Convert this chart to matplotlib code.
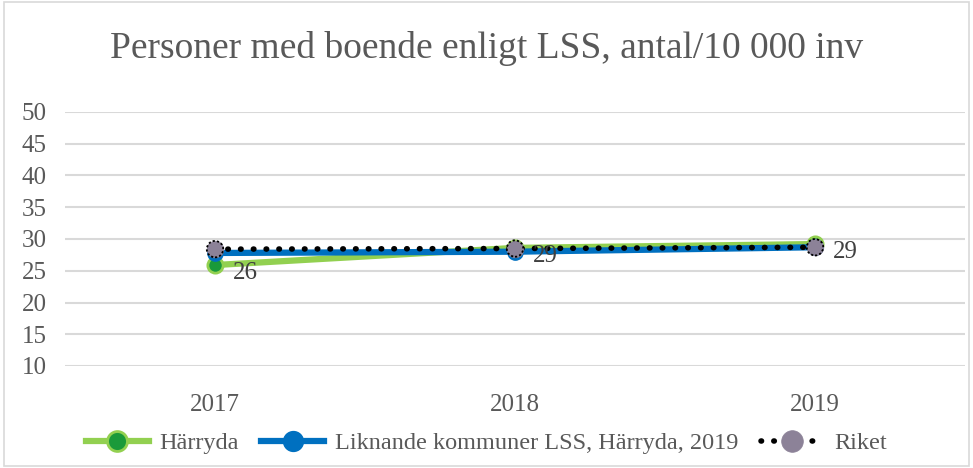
import numpy as np
from matplotlib import pyplot as plt

years = ['2017', '2018', '2019']
harryda = [25.9, 28.6, 29.2]
liknande = [27.8, 28.0, 28.7]
riket = [28.4, 28.5, 28.7]
labels_harryda = ['26', '29', '29']

plt.rcParams['font.family'] = ['Liberation Serif', 'DejaVu Serif']

fig = plt.figure(figsize=(9.73, 4.68), dpi=100)
ax = fig.add_axes([65/973, (468-366)/468, 900/973, 254/468])

x = np.arange(len(years))

ax.plot(x, harryda, color='#92D050', lw=4.5, marker='o', ms=11,
        mfc='#1A9A3A', mec='#92D050', mew=2, zorder=3, label='Härryda')
ax.plot(x, liknande, color='#0070C0', lw=4.5, marker='o', ms=11,
        mfc='#0070C0', mec='#0070C0', zorder=4,
        label='Liknande kommuner LSS, Härryda, 2019')
ax.plot(x, riket, color='black', lw=4, ls=(0, (0.1, 2.2)), dash_capstyle='round',
        marker='o', ms=12, mfc='#8C8298', mec='#8C8298', mew=0.5, zorder=5,
        label='Riket')
# dotted outline on Riket markers
ax.scatter(x, riket, s=140, facecolors='none', edgecolors='black',
           linewidths=1.3, linestyles=(0, (1.2, 1.2)), zorder=7)

for xi, yi, lab in zip(x, harryda, labels_harryda):
    ax.annotate(lab, (xi, yi), xytext=(13, -6), textcoords='offset points',
                fontsize=18, color='#404040', va='center', ha='left', zorder=8)

ax.set_xlim(-0.5, 2.5)
ax.set_ylim(10, 50)
ax.set_yticks(np.arange(10, 51, 5))
ax.set_xticks(x)
ax.set_xticklabels(years)
ax.grid(axis='y', color='#D9D9D9', lw=1.5)
ax.set_axisbelow(True)
for s in ax.spines.values():
    s.set_visible(False)
ax.tick_params(length=0, labelsize=18, colors='#595959', pad=13)
ax.tick_params(axis='x', pad=20)

fig.text(0.5, 1 - 48/468, 'Personer med boende enligt LSS, antal/10 000 inv',
         ha='center', va='center', fontsize=27, color='#595959')

leg = fig.legend(loc='center', bbox_to_anchor=(0.5, 1 - 443/468), ncol=3,
                 frameon=False, fontsize=17.5, handlelength=2.6, columnspacing=0.9,
                 handletextpad=0.45, labelcolor='#595959', markerscale=1.3)

fig.patches.append(plt.Rectangle((0.004, 0.004), 0.992, 0.992, transform=fig.transFigure,
                                 fill=False, edgecolor='#D9D9D9', lw=1.2))

fig.savefig('out.png', dpi=100)
